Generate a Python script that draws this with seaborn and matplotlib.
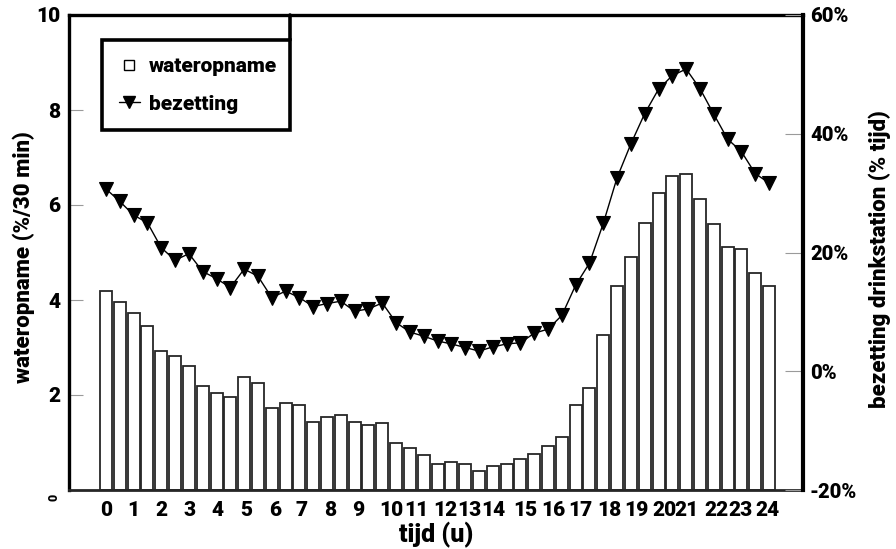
import numpy as np
import pandas as pd
import matplotlib
matplotlib.use("Agg")
import matplotlib.pyplot as plt
from matplotlib.lines import Line2D
import seaborn as sns

# Half-hourly time points (hours)
uur = [0.0, 0.5, 1.0, 1.5, 2.0, 2.5, 3.0, 3.5, 4.0, 4.5, 5.0, 5.5, 6.0, 6.5,
       7.0, 7.5, 8.0, 8.5, 9.0, 9.5, 10.0, 10.5, 11.0, 11.5, 12.0, 12.5,
       13.0, 13.5, 14.0, 14.5, 15.0, 15.5, 16.0, 16.5, 17.0, 17.5, 18.0,
       18.5, 19.0, 19.5, 20.0, 20.5, 21.0, 21.5, 22.0, 22.5, 23.0, 23.5, 24.0]

# Water intake (% of daily total per 30 min)
wateropname = [4.20, 3.95, 3.73, 3.45, 2.92, 2.82, 2.61, 2.20, 2.05, 1.95,
               2.37, 2.25, 1.73, 1.83, 1.79, 1.44, 1.54, 1.58, 1.43, 1.36,
               1.42, 1.00, 0.88, 0.74, 0.54, 0.58, 0.54, 0.40, 0.50, 0.54,
               0.65, 0.76, 0.92, 1.12, 1.79, 2.14, 3.26, 4.30, 4.91, 5.62,
               6.25, 6.61, 6.65, 6.13, 5.61, 5.11, 5.07, 4.57, 4.30]

# Occupancy of the drinking station (% of time)
bezetting = [30.7, 28.6, 26.3, 25.0, 20.8, 18.7, 19.8, 16.8, 15.6, 14.1,
             17.2, 16.0, 12.4, 13.5, 12.4, 10.9, 11.4, 11.8, 10.1, 10.5,
             11.5, 8.2, 6.6, 5.9, 5.1, 4.6, 4.0, 3.4, 4.1, 4.6,
             4.8, 6.4, 7.1, 9.4, 14.5, 18.2, 24.9, 32.6, 38.3, 43.4,
             47.5, 49.8, 50.9, 47.6, 43.3, 39.1, 37.0, 33.3, 31.7]

# Hour labels along the time axis and where they are printed
uur_labels = [str(h) for h in range(25)]
uur_label_pos = [0.0, 1.0, 2.02, 3.01, 4.04, 5.06, 6.12, 7.09, 8.13, 9.13,
                 10.34, 11.25, 12.27, 13.17, 14.01, 15.16, 16.18, 17.16,
                 18.22, 19.21, 20.20, 21.03, 22.10, 22.95, 23.93]

links_ticks = [2, 4, 6, 8, 10]
rechts_ticks = [-20, 0, 20, 40, 60]

df = pd.DataFrame({"uur": uur, "wateropname": wateropname,
                   "bezetting": bezetting})

sns.set_theme(style="white")
plt.rcParams["font.family"] = ["Roboto", "DejaVu Sans"]
plt.rcParams["font.weight"] = "black"
for key in ["text.color", "axes.labelcolor", "xtick.color", "ytick.color"]:
    plt.rcParams[key] = "black"
W8 = "black"

fig = plt.figure(figsize=(8.96, 5.49), dpi=100)
W, H = 896, 549
ax = fig.add_axes([69 / W, 1 - 490 / H, 734 / W, 475 / H])

sns.barplot(data=df, x="uur", y="wateropname", native_scale=True,
            width=0.87, color="white", saturation=1, errorbar=None,
            edgecolor="#262626", linewidth=1.3, ax=ax, zorder=2)

ax.set_xlim(-1.34, 25.23)
ax.set_ylim(0, 10)

ax2 = ax.twinx()
sns.lineplot(data=df, x="uur", y="bezetting", ax=ax2, color="black",
             lw=1.0, marker="v", markersize=9.5, markerfacecolor="black",
             markeredgecolor="black", markeredgewidth=0.8)
ax2.set_ylim(-20, 60)
ax2.set_xlim(-1.34, 25.23)

# Left axis
ax.set_yticks(links_ticks, [str(t) for t in links_ticks])
ax.tick_params(axis="y", direction="in", length=10, width=0.8,
               color="#9a9a9a", labelcolor="black", pad=6, labelsize=15,
               left=True)
ax.text(-0.0204, -0.15, "0", transform=ax.get_yaxis_transform(),
        rotation=90, ha="center", va="center", fontsize=9, fontweight=W8)
ax.set_ylabel("wateropname (%/30 min)", fontsize=16, fontweight=W8)
ax.yaxis.set_label_coords(-0.046, 0.49)

# Time axis
ax.set_xticks(uur_label_pos, uur_labels)
ax.tick_params(axis="x", length=0, pad=8, labelsize=15, labelcolor="black")
ax.set_xlabel("tijd (u)", fontsize=18, fontweight=W8, labelpad=1)

# Right axis
ax2.set_yticks(rechts_ticks, [f"{t}%" for t in rechts_ticks])
ax2.tick_params(axis="y", direction="in", length=13, width=0.8,
                color="#9a9a9a", labelcolor="black", pad=5, labelsize=14.5,
                right=True)
ax2.set_ylabel("bezetting drinkstation (% tijd)", fontsize=16,
               fontweight=W8, rotation=90)
ax2.yaxis.set_label_coords(1.089, 0.486)

for lbl in ax.get_xticklabels() + ax.get_yticklabels() + ax2.get_yticklabels():
    lbl.set_fontweight(W8)

# Frame
for side in ["left", "top"]:
    ax.spines[side].set_linewidth(2.4)
    ax.spines[side].set_color("black")
ax.spines["bottom"].set_linewidth(2.0)
ax.spines["bottom"].set_color("#262626")
ax.spines["right"].set_visible(False)
for side in ["left", "top", "bottom"]:
    ax2.spines[side].set_visible(False)
ax2.spines["right"].set_linewidth(3.0)
ax2.spines["right"].set_color("black")

# Legend
handles = [
    Line2D([], [], marker="s", linestyle="none", markerfacecolor="white",
           markeredgecolor="black", markersize=7, markeredgewidth=1.0),
    Line2D([], [], color="black", lw=1.0, marker="v", markersize=9,
           markerfacecolor="black", markeredgecolor="black"),
]
leg = ax2.legend(handles, ["wateropname", "bezetting"], loc="upper left",
                 bbox_to_anchor=(0.045, 0.947, 0.256, 0), mode="expand",
                 borderaxespad=0, fancybox=False, framealpha=1,
                 edgecolor="black", borderpad=0.8, labelspacing=0.9,
                 handlelength=1.0, handletextpad=0.45,
                 prop={"size": 15, "weight": W8})
leg.get_frame().set_linewidth(2.6)
ax2.plot([0.301, 0.301], [0.947, 1.0], transform=ax2.transAxes,
         color="black", lw=2.6, clip_on=False)

fig.savefig("out.png", dpi=100)
